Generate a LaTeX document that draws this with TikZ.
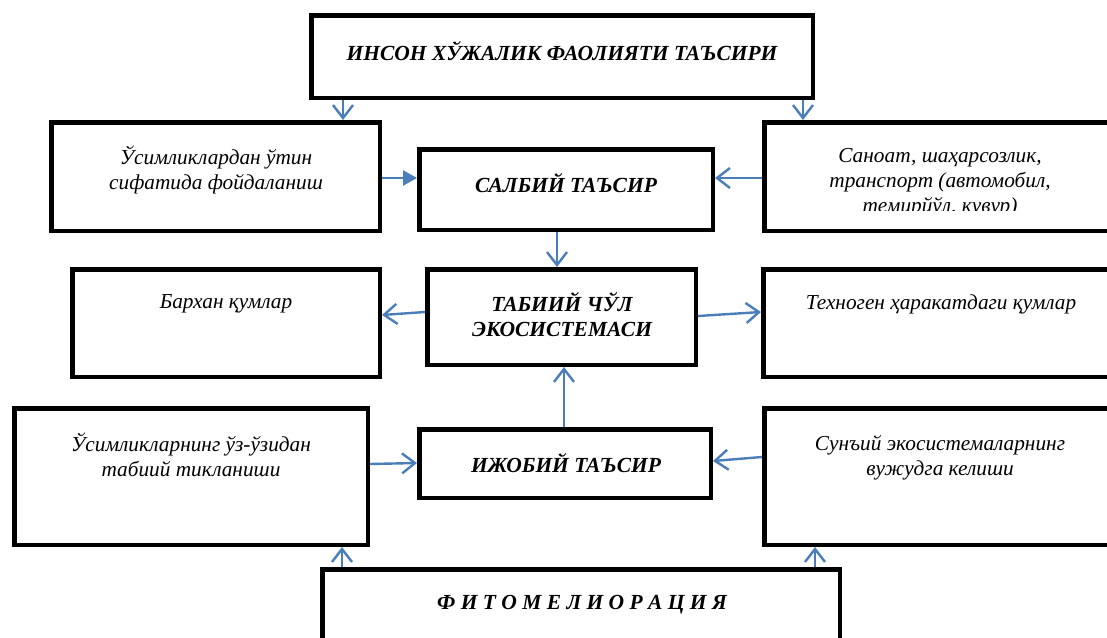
\documentclass[tikz,border=0pt]{standalone}
\usepackage{fontspec}
\setmainfont{Liberation Serif}
\usetikzlibrary{arrows.meta,calc}
\definecolor{arrblue}{HTML}{4A7EBB}
\tikzset{
  box/.style={draw=black, line width=4.5pt, inner sep=0pt, fill=white},
  txt/.style={font=\itshape\fontsize{21.3}{25}\selectfont, align=center, inner sep=0pt},
  btxt/.style={font=\bfseries\itshape\fontsize{21.5}{25}\selectfont, align=center, inner sep=0pt},
  arr/.style={draw=arrblue, line width=2.4pt, -{Straight Barb[length=13pt,width=20pt,line width=2.4pt]}},
  farr/.style={draw=arrblue, line width=2.4pt, -{Triangle[length=14pt,width=15pt]}},
}
\begin{document}
\begin{tikzpicture}[x=1pt,y=-1pt]
\useasboundingbox (0,0) rectangle (1107,637);
% boxes
\node[box, minimum width=501.5pt, minimum height=82.5pt] (top) at (562,56.5) {};
\node[box, minimum width=328.5pt, minimum height=108.5pt] (L1) at (215.5,176.5) {};
\node[box, minimum width=293.5pt, minimum height=80.5pt] (S) at (566,189.5) {};
\node[box, minimum width=353.5pt, minimum height=108.5pt] (R1) at (941,176.5) {};
\node[box, minimum width=307.5pt, minimum height=107.5pt] (B) at (226,323) {};
\node[box, minimum width=268.5pt, minimum height=95.5pt] (T) at (561.5,317) {};
\node[box, minimum width=354.5pt, minimum height=107.5pt] (Tx) at (940.5,323) {};
\node[box, minimum width=353.5pt, minimum height=136.5pt] (L3) at (191,476.5) {};
\node[box, minimum width=291.5pt, minimum height=68.5pt] (I) at (565,463.5) {};
\node[box, minimum width=353.5pt, minimum height=136.5pt] (R3) at (941,476.5) {};
\node[box, minimum width=517.5pt, minimum height=87.5pt] (F) at (581,613) {};
% texts
\node[btxt] (topt) at (562,51) {ИНСОН ХЎЖАЛИК ФАОЛИЯТИ ТАЪСИРИ};
\node[txt] (L1t) at (216,169.5) {Ўсимликлардан ўтин\\сифатида фойдаланиш};
\node[btxt] (St) at (566,183.5) {САЛБИЙ ТАЪСИР};
\begin{scope}
\clip (762,120) rectangle (1107,210);
\node[txt, anchor=north] (R1t) at (940,148.5) {Саноат, шаҳарсозлик,\\транспорт (автомобил,\\темирйўл, қувур)};
\end{scope}
\node[txt] (Bt) at (226,304) {Бархан қумлар};
\node[btxt] (Tt) at (562,315) {ТАБИИЙ ЧЎЛ\\ЭКОСИСТЕМАСИ};
\node[txt] (Txt) at (941,304) {Техноген ҳаракатдаги қумлар};
\node[txt] (L3t) at (191,454.5) {Ўсимликларнинг ўз-ўзидан\\табиий тикланиши};
\node[btxt] (It) at (566,463) {ИЖОБИЙ ТАЪСИР};
\node[txt] (R3t) at (940,457.5) {Сунъий экосистемаларнинг\\вужудга келиши};
\node[btxt] (Ft) at (582,605) {Ф И Т О М Е Л И О Р А Ц И Я};
% arrows
\draw[arr] ([xshift=34pt]top.south west) -- ([xshift=34pt]top.south west |- L1.north);
\draw[arr] ([xshift=-12pt]top.south east) -- ([xshift=-12pt]top.south east |- R1.north);
\draw[farr] ([yshift=-1.5pt]L1.east) -- ([yshift=-1.5pt]L1.east -| S.west);
\draw[arr] ([yshift=-1.5pt]R1.west) -- ([yshift=-1.5pt]R1.west -| S.east);
\draw[arr] ([xshift=-9pt]S.south) -- ([xshift=-9pt]S.south |- T.north);
\draw[arr] ([yshift=5pt]T.west) -- ([yshift=8pt]B.east);
\draw[arr] ([yshift=1pt]T.east) -- ([yshift=11pt]Tx.west);
\draw[arr] ([xshift=-1pt]I.north) -- ([xshift=-1pt]I.north |- T.south);
\draw[arr] ([yshift=12.5pt]L3.east) -- ([yshift=0.5pt]I.west);
\draw[arr] ([yshift=19.5pt]R3.west) -- ([yshift=2.5pt]I.east);
\draw[arr] ([xshift=22pt]F.north west) -- ([xshift=22pt]F.north west |- L3.south);
\draw[arr] ([xshift=-27pt]F.north east) -- ([xshift=-27pt]F.north east |- R3.south);
\end{tikzpicture}
\end{document}
